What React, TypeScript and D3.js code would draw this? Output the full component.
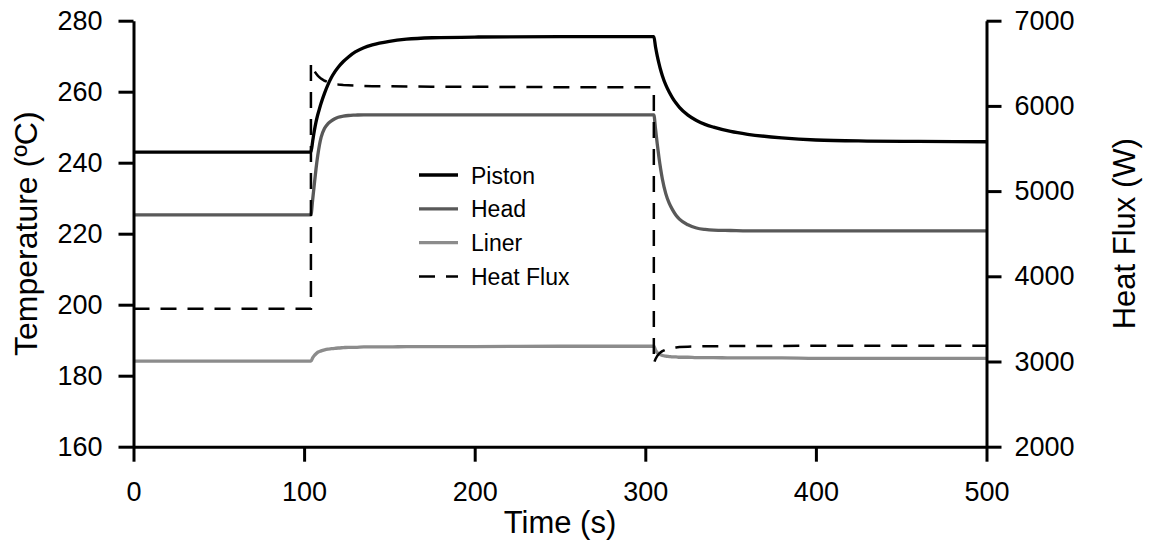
import React, { useRef, useEffect } from 'react';
import * as d3 from 'd3';

const TIME = [0, 104, 104, 105, 106, 107, 108, 109, 110, 112, 114, 116, 118, 120, 123, 126, 130, 135, 140, 150, 160, 175, 200, 250, 305, 305, 306, 307, 308, 309, 310, 312, 314, 316, 318, 320, 325, 330, 335, 340, 350, 360, 380, 400, 430, 460, 500];
const PISTON = [243, 243, 243, 246, 249, 251.5, 253.5, 255.2, 256.8, 259.6, 262, 264, 265.6, 266.9, 268.5, 269.8, 271.2, 272.4, 273.2, 274.2, 274.8, 275.2, 275.4, 275.5, 275.5, 275.5, 272.6, 270.1, 268, 266.1, 264.5, 261.9, 259.9, 258.2, 256.8, 255.6, 253.4, 251.9, 250.8, 250, 248.8, 248, 247, 246.4, 246.1, 246, 245.9];
const HEAD = [225.3, 225.3, 225.3, 229.5, 234, 238.3, 242, 245, 247.2, 249.7, 251, 251.8, 252.4, 252.8, 253.1, 253.3, 253.4, 253.5, 253.5, 253.5, 253.5, 253.5, 253.5, 253.5, 253.5, 253.5, 249.5, 245.3, 241.5, 238.2, 235.4, 231.3, 228.6, 226.7, 225.2, 224.1, 222.5, 221.6, 221.2, 221, 220.9, 220.8, 220.8, 220.8, 220.8, 220.8, 220.8];
const LINER = [184.1, 184.1, 184.1, 185, 185.7, 186.2, 186.6, 186.8, 187, 187.3, 187.5, 187.6, 187.7, 187.8, 187.9, 188, 188, 188.1, 188.1, 188.1, 188.2, 188.2, 188.2, 188.3, 188.3, 188.3, 187.2, 186.5, 186.1, 185.9, 185.7, 185.5, 185.4, 185.3, 185.3, 185.2, 185.2, 185.1, 185.1, 185.1, 185, 185, 185, 184.9, 184.9, 184.9, 184.9];
const HEAT_FLUX = [3620, 3620, 6500, 6450, 6410, 6380, 6355, 6335, 6320, 6295, 6278, 6266, 6258, 6252, 6246, 6242, 6238, 6235, 6232, 6230, 6228, 6226, 6224, 6220, 6218, 2980, 3030, 3065, 3090, 3108, 3122, 3140, 3152, 3160, 3165, 3169, 3174, 3177, 3179, 3180, 3181, 3182, 3183, 3184, 3185, 3185, 3185];

const X_TICKS = [0, 100, 200, 300, 400, 500];
const TEMP_TICKS = [160, 180, 200, 220, 240, 260, 280];
const FLUX_TICKS = [2000, 3000, 4000, 5000, 6000, 7000];
const SERIES_NAMES = ['Piston', 'Head', 'Liner', 'Heat Flux'];
const SERIES_COLORS = ['#000000', '#595959', '#8c8c8c', '#000000'];

const W = 1150;
const H = 549;
const PLOT = { left: 133.5, right: 986.5, top: 20.7, bottom: 446.7 };
const FONT = '"Liberation Sans", Arial, sans-serif';

export default function App() {
  const ref = useRef<SVGSVGElement | null>(null);

  useEffect(() => {
    const svg = d3.select(ref.current);
    svg.selectAll('*').remove();

    const x = d3.scaleLinear().domain([0, 500]).range([PLOT.left, PLOT.right]);
    const yT = d3.scaleLinear().domain([160, 280]).range([PLOT.bottom, PLOT.top]);
    const yF = d3.scaleLinear().domain([2000, 7000]).range([PLOT.bottom, PLOT.top]);

    const styleAxis = (g: any) => {
      g.attr('font-size', 27).attr('font-family', FONT);
      g.selectAll('path.domain').attr('stroke', '#000').attr('stroke-width', 3);
      g.selectAll('.tick line').attr('stroke', '#000').attr('stroke-width', 3);
      g.selectAll('.tick text').attr('fill', '#000');
    };

    // Lines
    const tempSeries = [PISTON, HEAD, LINER];
    tempSeries.forEach((vals, i) => {
      const pts: [number, number][] = [];
      TIME.forEach((t, k) => {
        if (k > 0 && TIME[k - 1] === t) return;
        pts.push([t, vals[k]]);
      });
      const line = d3
        .line<[number, number]>()
        .x((d) => x(d[0]))
        .y((d) => yT(d[1]))
        .curve(d3.curveMonotoneX);
      svg
        .append('path')
        .attr('d', line(pts))
        .attr('fill', 'none')
        .attr('stroke', SERIES_COLORS[i])
        .attr('stroke-width', 3.3)
        .attr('stroke-linejoin', 'round');
    });

    const fluxPts: [number, number][] = TIME.map((t, k) => [t, HEAT_FLUX[k]]);
    const fluxLine = d3
      .line<[number, number]>()
      .x((d) => x(d[0]))
      .y((d) => yF(d[1]));
    svg
      .append('path')
      .attr('d', fluxLine(fluxPts))
      .attr('fill', 'none')
      .attr('stroke', SERIES_COLORS[3])
      .attr('stroke-width', 2.5)
      .attr('stroke-dasharray', '16,11');

    // Axes
    const gx = svg
      .append('g')
      .attr('transform', `translate(0,${PLOT.bottom})`)
      .call(d3.axisBottom(x).tickValues(X_TICKS).tickSize(15).tickSizeOuter(0).tickPadding(20).tickFormat(d3.format('d')));
    styleAxis(gx);

    const gl = svg
      .append('g')
      .attr('transform', `translate(${PLOT.left},0)`)
      .call(d3.axisLeft(yT).tickValues(TEMP_TICKS).tickSize(15).tickSizeOuter(0).tickPadding(16).tickFormat(d3.format('d')));
    styleAxis(gl);

    const gr = svg
      .append('g')
      .attr('transform', `translate(${PLOT.right},0)`)
      .call(d3.axisRight(yF).tickValues(FLUX_TICKS).tickSize(15).tickSizeOuter(0).tickPadding(13).tickFormat(d3.format('d')));
    styleAxis(gr);

    // Axis titles
    svg
      .append('text')
      .attr('transform', `translate(37,${(PLOT.top + PLOT.bottom) / 2}) rotate(-90)`)
      .attr('text-anchor', 'middle')
      .attr('font-family', FONT)
      .attr('font-size', 32)
      .text('Temperature (ºC)');

    svg
      .append('text')
      .attr('transform', `translate(1135,${(PLOT.top + PLOT.bottom) / 2}) rotate(-90)`)
      .attr('text-anchor', 'middle')
      .attr('font-family', FONT)
      .attr('font-size', 31)
      .text('Heat Flux (W)');

    svg
      .append('text')
      .attr('x', (PLOT.left + PLOT.right) / 2)
      .attr('y', 533)
      .attr('text-anchor', 'middle')
      .attr('font-family', FONT)
      .attr('font-size', 31)
      .text('Time (s)');

    // Legend
    const leg = svg.append('g').attr('transform', 'translate(419,175)');
    SERIES_NAMES.forEach((name, i) => {
      const gy = i * 33.8;
      leg
        .append('line')
        .attr('x1', 0)
        .attr('x2', 39)
        .attr('y1', gy)
        .attr('y2', gy)
        .attr('stroke', SERIES_COLORS[i])
        .attr('stroke-width', i === 3 ? 2.5 : 3.3)
        .attr('stroke-dasharray', i === 3 ? '16,11' : null);
      leg
        .append('text')
        .attr('x', 52)
        .attr('y', gy + 8.5)
        .attr('font-family', FONT)
        .attr('font-size', 23)
        .attr('fill', '#000')
        .text(name);
    });
  }, []);

  return (
    <svg
      ref={ref}
      width={W}
      height={H}
      style={{ position: 'absolute', left: 0, top: 0, background: '#fff' }}
    />
  );
}
